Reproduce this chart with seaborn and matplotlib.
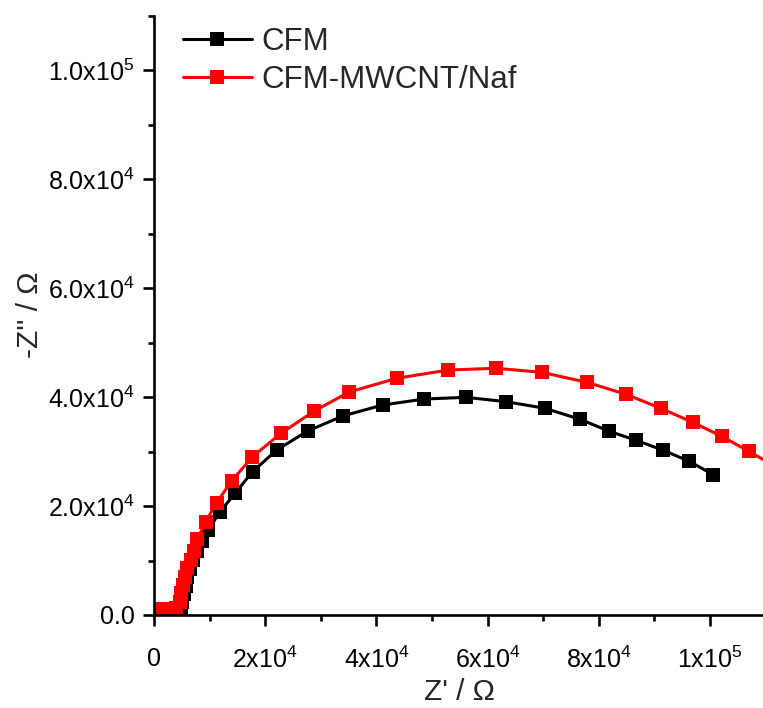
import numpy as np
import pandas as pd
import matplotlib
matplotlib.use("Agg")
import matplotlib.pyplot as plt
from matplotlib.ticker import MultipleLocator
import seaborn as sns

# Nyquist data (Z' real part, -Z'' imaginary part), in ohm
cfm_zre = [1400, 1900, 2400, 2900, 3400, 3900, 4400, 4800, 5100, 5400, 5700, 6000,
           6500, 7100, 7800, 8700, 9770, 11870, 14570, 17720, 22070, 27640, 33940,
           41130, 48620, 56120, 63310, 70320, 76620, 81890, 86690, 91600, 96280, 100590]
cfm_zim = [1000, 1000, 1000, 1000, 1000, 1050, 1100, 1300, 2400, 3900, 5400, 7000,
           8500, 10100, 11800, 13600, 15600, 18950, 22330, 26290, 30280, 33760, 36510,
           38530, 39630, 39940, 39140, 37930, 35910, 33710, 32060, 30220, 28200, 25740]

naf_zre = [1100, 1600, 2100, 2600, 3100, 3600, 4000, 4620, 4910, 5220, 5520, 5990,
           6600, 7190, 7820, 9300, 11280, 13970, 17600, 22840, 28830, 35130, 43650,
           52930, 61510, 69730, 77820, 84890, 91130, 96890, 102100, 106960, 111700]
naf_zim = [1100, 1100, 1100, 1100, 1100, 1150, 1200, 2440, 3980, 5500, 7030, 8570,
           10090, 11800, 13910, 17120, 20640, 24590, 28940, 33340, 37430, 40920, 43430,
           44950, 45270, 44530, 42700, 40500, 37930, 35360, 32790, 30040, 27300]

labels = ["CFM", "CFM-MWCNT/Naf"]
colors = ["#000000", "#ff0000"]

x_ticks = [0, 20000, 40000, 60000, 80000, 100000]
x_ticklabels = ["0", r"$2x10^{4}$", r"$4x10^{4}$", r"$6x10^{4}$", r"$8x10^{4}$", r"$1x10^{5}$"]
y_ticks = [0, 20000, 40000, 60000, 80000, 100000]
y_ticklabels = ["0.0", r"$2.0x10^{4}$", r"$4.0x10^{4}$", r"$6.0x10^{4}$",
                r"$8.0x10^{4}$", r"$1.0x10^{5}$"]

df = pd.concat([
    pd.DataFrame({"zre": cfm_zre, "zim": cfm_zim, "sample": labels[0]}),
    pd.DataFrame({"zre": naf_zre, "zim": naf_zim, "sample": labels[1]}),
], ignore_index=True)

sns.set_theme(style="ticks")
plt.rcParams["font.family"] = ["Liberation Sans", "DejaVu Sans"]
plt.rcParams["mathtext.fontset"] = "custom"
plt.rcParams["mathtext.rm"] = "Liberation Sans"
plt.rcParams["mathtext.it"] = "Liberation Sans"
plt.rcParams["mathtext.default"] = "regular"

fig = plt.figure(figsize=(7.63, 7.08), dpi=100)
ax = fig.add_axes([154 / 763, 93 / 708, 611.6 / 763, 599.5 / 708])

sns.lineplot(data=df, x="zre", y="zim", hue="sample", hue_order=labels,
             palette=colors, sort=False, estimator=None, marker="s",
             markersize=9.4, markeredgewidth=0, linewidth=2.2, ax=ax,
             legend=False)

ax.set_xlim(0, 110000)
ax.set_ylim(0, 110000)

for side in ["top", "right"]:
    ax.spines[side].set_visible(False)
for side in ["left", "bottom"]:
    ax.spines[side].set_linewidth(1.9)
    ax.spines[side].set_color("black")

ax.set_xticks(x_ticks)
ax.set_xticklabels(x_ticklabels)
ax.set_yticks(y_ticks)
ax.set_yticklabels(y_ticklabels)
ax.xaxis.set_minor_locator(MultipleLocator(10000))
ax.yaxis.set_minor_locator(MultipleLocator(10000))
ax.tick_params(which="major", direction="out", length=8, width=1.9,
               labelsize=18, colors="black")
ax.tick_params(which="minor", direction="out", length=4.5, width=1.9, colors="black")
ax.tick_params(axis="x", which="major", pad=15)
ax.tick_params(axis="y", which="major", pad=6)

ax.set_xlabel("Z' / Ω", fontsize=21.5, labelpad=3)
ax.set_ylabel("-Z'' / Ω", fontsize=21.5, labelpad=3)

handles = [plt.Line2D([], [], color=c, marker="s", markersize=9.4,
                      markeredgewidth=0, linewidth=2.2) for c in colors]
ax.legend(handles, labels, loc="upper left", frameon=False, fontsize=22.5,
          bbox_to_anchor=(183 / 763, 1 - 27 / 708), bbox_transform=fig.transFigure,
          borderaxespad=0, borderpad=0, handlelength=2.2, handletextpad=0.3,
          labelspacing=0.25)

fig.savefig("out.png", dpi=100)
